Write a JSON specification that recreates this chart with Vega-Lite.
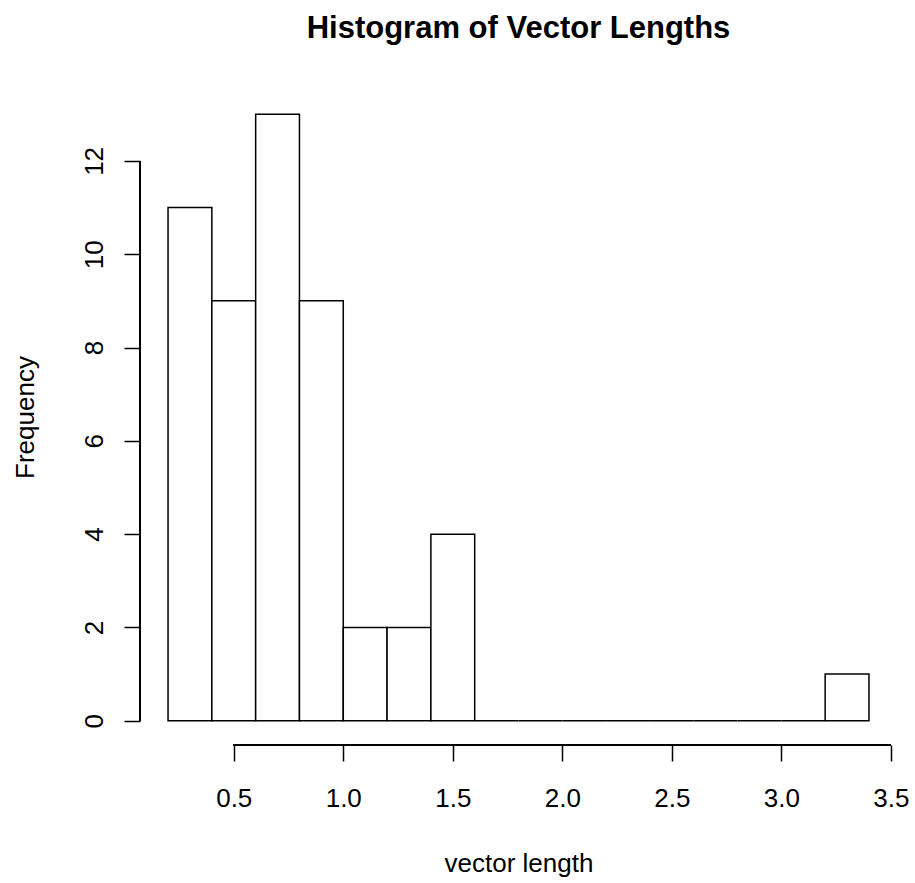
{
  "$schema": "https://vega.github.io/schema/vega-lite/v6.json",
  "width": 757,
  "height": 655,
  "autosize": {"type": "none"},
  "padding": {"left": 140, "top": 90, "right": 18, "bottom": 138},
  "background": "white",
  "title": {"text": "Histogram of Vector Lengths", "fontSize": 31, "fontWeight": "bold", "font": "Liberation Sans", "anchor": "middle", "offset": 45, "color": "black"},
  "config": {"view": {"stroke": null}, "font": "Liberation Sans"},
  "data": {"values": [
    {"bin_start": 0.2, "bin_end": 0.4, "count": 11},
    {"bin_start": 0.4, "bin_end": 0.6, "count": 9},
    {"bin_start": 0.6, "bin_end": 0.8, "count": 13},
    {"bin_start": 0.8, "bin_end": 1.0, "count": 9},
    {"bin_start": 1.0, "bin_end": 1.2, "count": 2},
    {"bin_start": 1.2, "bin_end": 1.4, "count": 2},
    {"bin_start": 1.4, "bin_end": 1.6, "count": 4},
    {"bin_start": 1.6, "bin_end": 1.8, "count": 0},
    {"bin_start": 1.8, "bin_end": 2.0, "count": 0},
    {"bin_start": 2.0, "bin_end": 2.2, "count": 0},
    {"bin_start": 2.2, "bin_end": 2.4, "count": 0},
    {"bin_start": 2.4, "bin_end": 2.6, "count": 0},
    {"bin_start": 2.6, "bin_end": 2.8, "count": 0},
    {"bin_start": 2.8, "bin_end": 3.0, "count": 0},
    {"bin_start": 3.0, "bin_end": 3.2, "count": 0},
    {"bin_start": 3.2, "bin_end": 3.4, "count": 1}
  ]},
  "layer": [
    {
      "mark": {"type": "rect", "fill": "white", "stroke": "black", "strokeWidth": 1.5},
      "encoding": {
        "x": {
          "field": "bin_start", "type": "quantitative",
          "scale": {"domain": [0.072, 3.528], "nice": false, "zero": false},
          "title": "vector length",
          "axis": {
            "domain": false, "grid": false,
            "values": [0.5, 1.0, 1.5, 2.0, 2.5, 3.0, 3.5],
            "format": ".1f",
            "tickSize": 16, "tickWidth": 1.5, "tickColor": "black",
            "labelFontSize": 26, "labelColor": "black", "labelFont": "Liberation Sans",
            "labelBaseline": "alphabetic", "labelPadding": 45, "labelFlush": false, "labelOverlap": false,
            "titleFontSize": 26, "titleFontWeight": "normal", "titleColor": "black", "titleFont": "Liberation Sans",
            "titleBaseline": "alphabetic", "titleY": 126
          }
        },
        "x2": {"field": "bin_end"},
        "y": {
          "field": "count", "type": "quantitative",
          "scale": {"domain": [-0.52, 13.52], "nice": false, "zero": false},
          "title": "Frequency",
          "axis": {
            "domain": false, "grid": false,
            "values": [0, 2, 4, 6, 8, 10, 12],
            "tickSize": 16, "tickWidth": 1.5, "tickColor": "black",
            "labelFontSize": 26, "labelColor": "black", "labelFont": "Liberation Sans",
            "labelAngle": 270, "labelAlign": "center", "labelBaseline": "alphabetic", "labelPadding": 22, "labelFlush": false, "labelOverlap": false,
            "titleFontSize": 26, "titleFontWeight": "normal", "titleColor": "black", "titleFont": "Liberation Sans",
            "titleAngle": 270, "titleBaseline": "alphabetic", "titleX": -107, "titleY": 327, "titleAlign": "center"
          }
        },
        "y2": {"datum": 0}
      }
    },
    {
      "mark": {"type": "rule", "stroke": "black", "strokeWidth": 1.5},
      "encoding": {"x": {"datum": 0.5}, "x2": {"datum": 3.5}, "y": {"datum": -0.52}}
    },
    {
      "mark": {"type": "rule", "stroke": "black", "strokeWidth": 1.5},
      "encoding": {"x": {"datum": 0.072}, "y": {"datum": 0}, "y2": {"datum": 12}}
    }
  ]
}
